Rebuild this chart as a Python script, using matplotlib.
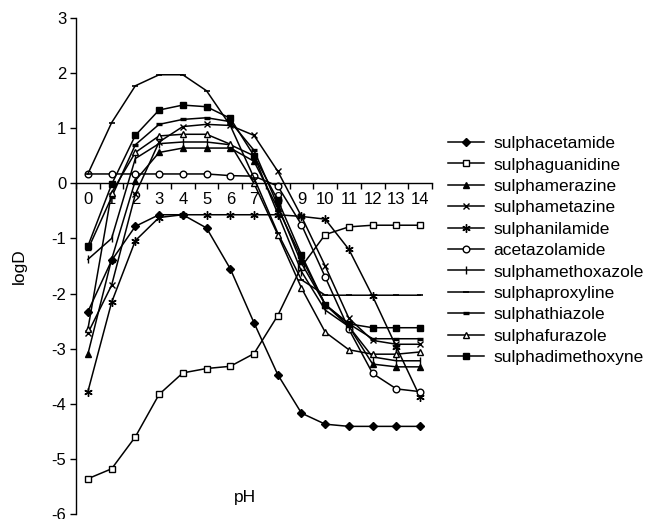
import numpy as np
import matplotlib
matplotlib.use("Agg")
import matplotlib.pyplot as plt
from matplotlib.ticker import FixedLocator, NullFormatter

plt.rcParams['font.family'] = ['Liberation Sans', 'DejaVu Sans']
plt.rcParams['axes.unicode_minus'] = False

pH = np.arange(0, 15)

sulphacetamide = [-2.33, -1.40, -0.78, -0.57, -0.57, -0.81, -1.55, -2.53, -3.47, -4.17, -4.37, -4.41, -4.41, -4.41, -4.41]
sulphaguanidine = [-5.36, -5.18, -4.60, -3.83, -3.44, -3.36, -3.32, -3.09, -2.40, -1.51, -0.93, -0.79, -0.76, -0.76, -0.76]
sulphamerazine = [-3.10, -1.38, 0.05, 0.56, 0.64, 0.64, 0.64, 0.40, -0.45, -1.35, -2.20, -2.60, -3.28, -3.33, -3.33]
sulphametazine = [-2.72, -1.85, -0.20, 0.75, 1.03, 1.07, 1.05, 0.87, 0.22, -0.60, -1.50, -2.45, -2.85, -2.92, -2.92]
sulphanilamide = [-3.78, -2.16, -1.04, -0.62, -0.57, -0.57, -0.57, -0.57, -0.57, -0.60, -0.65, -1.20, -2.05, -2.97, -3.88]
acetazolamide = [0.17, 0.17, 0.17, 0.17, 0.17, 0.17, 0.14, 0.13, -0.05, -0.75, -1.70, -2.65, -3.45, -3.73, -3.78]
sulphamethoxazole = [-1.38, -1.00, 0.45, 0.72, 0.75, 0.75, 0.70, 0.50, -0.55, -1.60, -2.30, -2.60, -3.15, -3.22, -3.22]
sulphaproxyline = [0.17, 1.10, 1.77, 1.97, 1.97, 1.68, 1.05, 0.10, -0.90, -1.75, -2.03, -2.03, -2.03, -2.03, -2.03]
sulphathiazole = [-1.20, -0.25, 0.70, 1.07, 1.16, 1.19, 1.12, 0.60, -0.40, -1.45, -2.20, -2.55, -2.82, -2.82, -2.82]
sulphafurazole = [-2.65, -0.17, 0.56, 0.86, 0.89, 0.89, 0.71, 0.00, -0.93, -1.90, -2.70, -3.02, -3.10, -3.10, -3.06]
sulphadimethoxyne = [-1.14, -0.02, 0.87, 1.33, 1.42, 1.39, 1.18, 0.50, -0.30, -1.30, -2.20, -2.55, -2.62, -2.62, -2.62]

series = [
    ("sulphacetamide", sulphacetamide, dict(marker='D', ms=3.8, mfc='black')),
    ("sulphaguanidine", sulphaguanidine, dict(marker='s', ms=4.5, mfc='white')),
    ("sulphamerazine", sulphamerazine, dict(marker='^', ms=5, mfc='black')),
    ("sulphametazine", sulphametazine, dict(marker='x', ms=5, mew=1.0)),
    ("sulphanilamide", sulphanilamide, dict(marker=(6, 2, 0), ms=6, mew=1.0)),
    ("acetazolamide", acetazolamide, dict(marker='o', ms=4.8, mfc='white')),
    ("sulphamethoxazole", sulphamethoxazole, dict(marker='|', ms=6, mew=1.0)),
    ("sulphaproxyline", sulphaproxyline, dict(marker='_', ms=4, mew=1.2)),
    ("sulphathiazole", sulphathiazole, dict(marker='_', ms=5, mew=2.4)),
    ("sulphafurazole", sulphafurazole, dict(marker='^', ms=5, mfc='white')),
    ("sulphadimethoxyne", sulphadimethoxyne, dict(marker='s', ms=4.5, mfc='black')),
]

fig = plt.figure(figsize=(6.52, 5.19), dpi=100)
ax = fig.add_axes([76/652, 1-514/519, 356/652, 496/519])

for name, vals, st in series:
    ax.plot(pH, vals, color='black', lw=1.1, mec='black', label=name, clip_on=False, **st)

ax.set_xlim(-0.5, 14.5)
ax.set_ylim(-6, 3)
ax.set_yticks(np.arange(-6, 4))

ax.spines['bottom'].set_position(('data', 0))
ax.spines['top'].set_visible(False)
ax.spines['right'].set_visible(False)
for s in ['left', 'bottom']:
    ax.spines[s].set_linewidth(1.0)

# category axis: tick marks between categories, labels at centres
ax.xaxis.set_major_locator(FixedLocator(np.arange(-0.5, 15, 1)))
ax.xaxis.set_major_formatter(NullFormatter())
ax.xaxis.set_minor_locator(FixedLocator(pH))
ax.set_xticklabels([str(v) for v in pH], minor=True)
ax.tick_params(axis='x', which='major', direction='out', length=4, width=1)
ax.tick_params(axis='x', which='minor', length=0, pad=6, labelsize=12)
ax.tick_params(axis='y', direction='out', length=4, width=1, labelsize=12, pad=3)

ax.set_xlabel('pH', fontsize=12.5)
ax.xaxis.set_label_coords(0.475, 0.034)
ax.xaxis.label.set_va('center')
ax.set_ylabel('logD', fontsize=12.5)
ax.yaxis.set_label_coords(-0.158, 0.5)
ax.yaxis.label.set_va('center')

ax.legend(loc='upper left', bbox_to_anchor=(448/652, 1-136/519), bbox_transform=fig.transFigure,
          frameon=False, fontsize=12.5, handlelength=2.1, handletextpad=0.5,
          labelspacing=0.36, borderpad=0, borderaxespad=0)

fig.savefig('out.png', dpi=100)
